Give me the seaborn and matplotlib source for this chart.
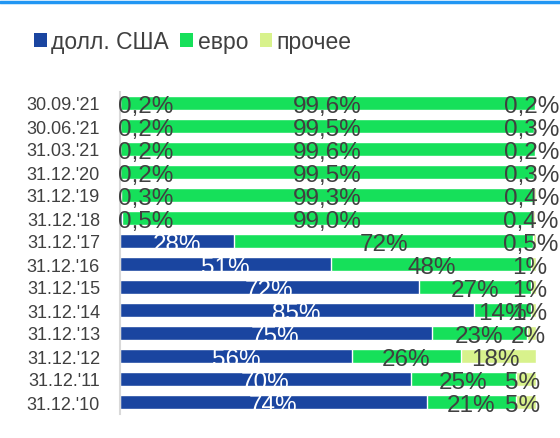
import numpy as np
import pandas as pd
import matplotlib
matplotlib.use("Agg")
import matplotlib.pyplot as plt
import seaborn as sns
from matplotlib.lines import Line2D
from matplotlib.patches import Patch

## datos
fechas = ["30.09.'21", "30.06.'21", "31.03.'21", "31.12.'20", "31.12.'19", "31.12.'18",
          "31.12.'17", "31.12.'16", "31.12.'15", "31.12.'14", "31.12.'13", "31.12.'12",
          "31.12.'11", "31.12.'10"]
usd = [0.2, 0.2, 0.2, 0.2, 0.3, 0.5, 27.6, 50.9, 72.0, 85.2, 75.0, 56.0, 70.0, 74.0]
eur = [99.6, 99.5, 99.6, 99.5, 99.3, 99.0, 71.9, 48.1, 27.0, 13.7, 23.0, 26.0, 25.3, 21.2]
otro = [0.2, 0.3, 0.2, 0.3, 0.4, 0.4, 0.5, 1.0, 1.0, 1.2, 2.0, 18.1, 4.7, 4.8]
con_decimal = [True, True, True, True, True, True, False, False, False, False, False, False, False, False]
series = ["долл. США", "евро", "прочее"]

c_usd = "#1a45a0"
c_eur = "#16e05a"
c_otro = "#d8f28c"
c_txt = "#404040"

df = pd.DataFrame({"fecha": fechas, "usd": usd, "eur": eur, "otro": otro})
df["c1"] = df["usd"]
df["c2"] = df["usd"] + df["eur"]
df["c3"] = df["c2"] + df["otro"]

sns.set_style("white")
plt.rcParams["font.family"] = ["Liberation Sans", "DejaVu Sans"]

fig = plt.figure(figsize=(5.6, 4.39), dpi=100)
ax = fig.add_axes([119.5 / 560, 1 - 414.5 / 439, (535.5 - 119.5) / 560, 322 / 439])

# barras apiladas: total primero, luego se tapan con los acumulados
sns.barplot(data=df, x="c3", y="fecha", orient="h", color=c_otro, width=0.65, saturation=1, ax=ax)
sns.barplot(data=df, x="c2", y="fecha", orient="h", color=c_eur, width=0.65, saturation=1, ax=ax)
sns.barplot(data=df, x="c1", y="fecha", orient="h", color=c_usd, width=0.65, saturation=1, ax=ax)

def fmt(v, dec):
    if dec or v < 1:
        return f"{v:.1f}".replace(".", ",") + "%"
    return f"{v:.0f}%"

fs = 17.5
for i, r in df.iterrows():
    dec = con_decimal[i]
    yy = i + 0.12
    if r["usd"] < 1:
        ax.text(-0.3, yy, fmt(r["usd"], dec), ha="left", va="center", color=c_txt, fontsize=fs, clip_on=False)
    else:
        ax.text(r["usd"] / 2, yy, fmt(r["usd"], dec), ha="center", va="center", color="white", fontsize=fs)
    ax.text(r["usd"] + r["eur"] / 2, yy, fmt(r["eur"], dec), ha="center", va="center", color=c_txt, fontsize=fs, clip_on=False)
    ax.text(r["c2"] + r["otro"] / 2 - 0.8, yy, fmt(r["otro"], dec), ha="center", va="center", color=c_txt, fontsize=fs, clip_on=False)

ax.set_xlim(0, 100)
ax.set_ylim(13.5, -0.5)
ax.set_xlabel("")
ax.set_ylabel("")
ax.set_xticks([])
ax.tick_params(axis="y", length=0, pad=14, labelsize=13, labelcolor=c_txt)
for s in ["top", "right", "bottom"]:
    ax.spines[s].set_visible(False)
ax.spines["left"].set_color("#d9d9d9")
ax.spines["left"].set_linewidth(1.5)

handles = [Patch(facecolor=c, edgecolor="none") for c in [c_usd, c_eur, c_otro]]
fig.legend(handles, series, loc="center left", bbox_to_anchor=(34 / 560, 1 - 43 / 439),
           ncol=3, frameon=False, fontsize=16.5, handlelength=0.55, handleheight=0.55,
           handletextpad=0.2, columnspacing=0.5, borderpad=0, borderaxespad=0,
           labelcolor=c_txt)

fig.add_artist(Line2D([0, 1], [1 - 3 / 439, 1 - 3 / 439], color="#2196f3", lw=2.5))

fig.savefig("out.png", dpi=100)
